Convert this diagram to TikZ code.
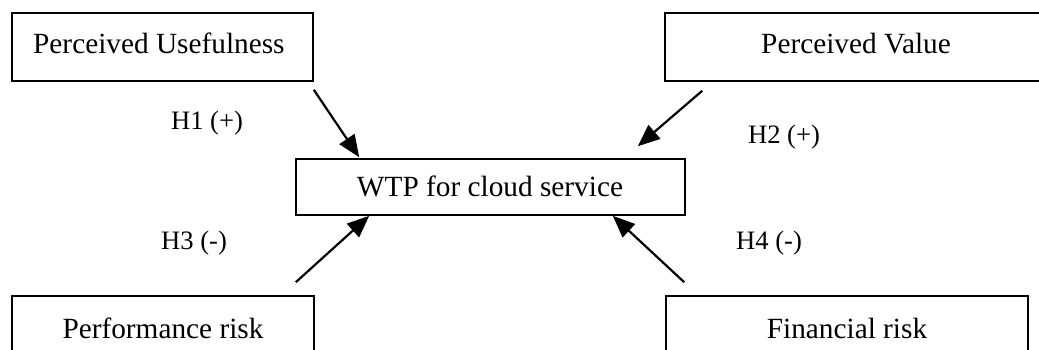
\documentclass[tikz,border=0pt]{standalone}
\usepackage{fontspec}
\setmainfont{Liberation Serif}
\usetikzlibrary{arrows.meta,fit,calc}
\tikzset{
  box/.style={draw, line width=1.6pt, inner sep=0pt, fill=none},
  boxtext/.style={font=\fontsize{29.3}{34}\selectfont, inner sep=0pt},
  hyp/.style={font=\fontsize{26.6}{31}\selectfont, inner sep=0pt},
  link/.style={line width=2.2pt, -{Triangle[length=22pt,width=18pt]}}
}
\begin{document}
\begin{tikzpicture}[x=1pt,y=-1pt]
\useasboundingbox (0,0) rectangle (1039,349);
% box corners
\coordinate (pua) at (12,13);   \coordinate (pub) at (313,81);
\coordinate (pva) at (665,13);  \coordinate (pvb) at (1060,81);
\coordinate (wa) at (296,159);  \coordinate (wb) at (685,215);
\coordinate (pra) at (12,296);  \coordinate (prb) at (314,380);
\coordinate (fra) at (666,296); \coordinate (frb) at (1028,380);
\node[box, fit=(pua)(pub)] (pu) {};
\node[box, fit=(pva)(pvb)] (pv) {};
\node[box, fit=(wa)(wb)] (wtp) {};
\node[box, fit=(pra)(prb)] (pr) {};
\node[box, fit=(fra)(frb)] (fr) {};
% texts
\node[boxtext, anchor=base west] (putext) at (33,53) {Perceived Usefulness};
\node[boxtext, anchor=base] (pvtext) at (856,53) {Perceived Value};
\node[boxtext, anchor=base] (wtptext) at (490,196) {WTP for cloud service};
\node[boxtext, anchor=base] (prtext) at (163,338) {Performance risk};
\node[boxtext, anchor=base] (frtext) at (847,338) {Financial risk};
% hypothesis labels
\node[hyp] (h1) at (207,123) {H1 (+)};
\node[hyp] (h2) at (784,137) {H2 (+)};
\node[hyp] (h3) at (194,243) {H3 (-)};
\node[hyp] (h4) at (769,243) {H4 (-)};
% connectors
\draw[link] ($(pu.south east)+(0,8)$) -- ($(wtp.north west)+(64,-1)$);
\draw[link] ($(pv.south west)+(38,9)$) -- ($(wtp.north east)+(-48,-12)$);
\draw[link] ($(pr.north east)+(-19,-13)$) -- ($(wtp.south west)+(74,0)$);
\draw[link] ($(fr.north west)+(19,-13)$) -- ($(wtp.south east)+(-73,0)$);
\end{tikzpicture}
\end{document}
